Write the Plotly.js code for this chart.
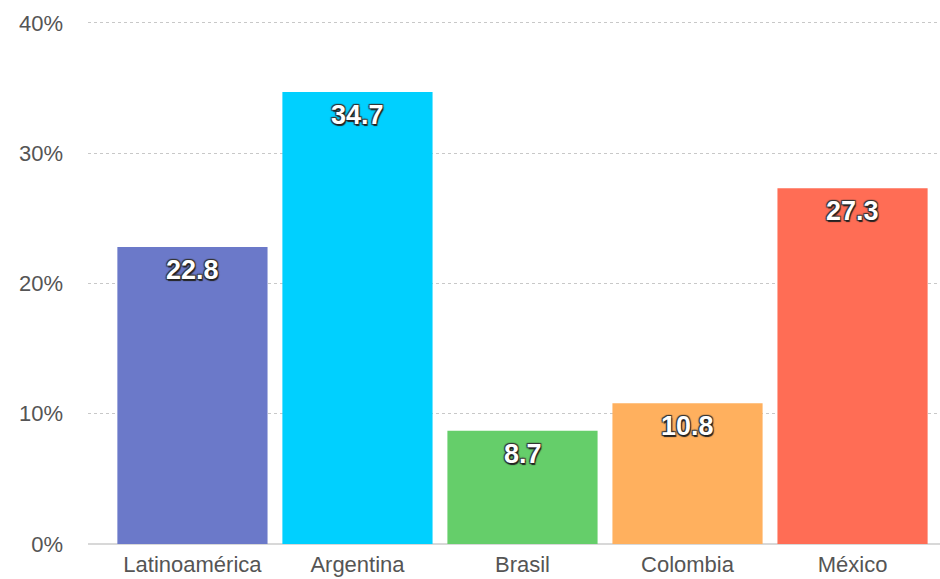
<!DOCTYPE html>
<html>
<head>
<meta charset="utf-8">
<script src="https://cdn.plot.ly/plotly-3.0.1.min.js"></script>
<style>html,body{margin:0;padding:0;background:#fff;}#chart{width:940px;height:579px;}</style>
</head>
<body>
<div id="chart"></div>
<script>
var categories = ["Latinoamérica", "Argentina", "Brasil", "Colombia", "México"];
var values = [22.8, 34.7, 8.7, 10.8, 27.3];
var barColors = ["#6b79c9", "#00d0ff", "#65ce6a", "#ffb05e", "#ff6d55"];
var yTickVals = [0, 10, 20, 30, 40];
var yTickText = ["0%", "10%", "20%", "30%", "40%"];

var trace = {
  type: "bar",
  x: categories,
  y: values,
  marker: {color: barColors, line: {width: 0}},
  hoverinfo: "none"
};

var labelFont = {
  family: "Liberation Sans, Arial, sans-serif",
  size: 27,
  color: "#ffffff",
  weight: "bold",
  shadow: "1px 2px 1px #222, -1px -1px 1px #333, 1px -1px 1px #333, -1px 1px 1px #333"
};

var annotations = categories.map(function(c, i){
  return {
    x: c, y: values[i], xref: "x", yref: "y",
    text: values[i].toFixed(1),
    showarrow: false,
    yanchor: "top",
    yshift: -6,
    font: labelFont
  };
});

var layout = {
  width: 940,
  height: 579,
  margin: {l: 88, r: 0, t: 19, b: 35},
  paper_bgcolor: "#ffffff",
  plot_bgcolor: "#ffffff",
  showlegend: false,
  bargap: 0.09,
  font: {family: "Liberation Sans, Arial, sans-serif", color: "#555"},
  annotations: annotations,
  xaxis: {
    type: "category",
    range: [-0.633, 4.53],
    showgrid: false,
    showline: false,
    ticks: "",
    ticklabelstandoff: 5,
    tickfont: {size: 22, color: "#555"},
    fixedrange: true
  },
  yaxis: {
    range: [0, 40.3],
    tickvals: yTickVals,
    ticktext: yTickText,
    showgrid: true,
    gridcolor: "#c8c8c8",
    griddash: "dot",
    gridwidth: 1,
    zeroline: true,
    zerolinecolor: "#d8d8d8",
    zerolinewidth: 2,
    showline: false,
    ticks: "",
    ticklabelstandoff: 24,
    tickfont: {size: 22, color: "#555"},
    fixedrange: true
  }
};

Plotly.newPlot("chart", [trace], layout, {displayModeBar: false, staticPlot: true});
</script>
</body>
</html>
